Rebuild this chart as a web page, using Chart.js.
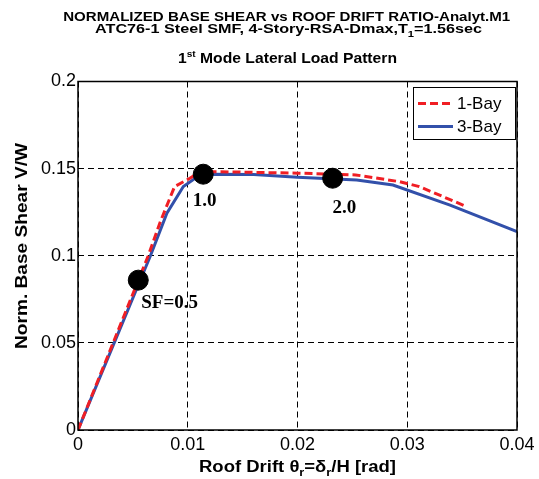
<!DOCTYPE html>
<html>
<head>
<meta charset="utf-8">
<script src="https://cdn.jsdelivr.net/npm/chart.js@4/dist/chart.umd.min.js"></script>
<style>
html,body{margin:0;padding:0;background:#fff;}
canvas{display:block;}
</style>
</head>
<body>
<canvas id="c" width="539" height="479"></canvas>
<script>
// ---- data ----
const drift1Bay = [0, 0.0064, 0.0075, 0.0088, 0.0102, 0.0111, 0.0130, 0.0200, 0.0253, 0.0293, 0.0311, 0.0354];
const shear1Bay = [0, 0.100, 0.1195, 0.1397, 0.1445, 0.1483, 0.1482, 0.1474, 0.1464, 0.1425, 0.1397, 0.1282];
const drift3Bay = [0, 0.0066, 0.0081, 0.0096, 0.0108, 0.0123, 0.0160, 0.0200, 0.0254, 0.0287, 0.0339, 0.0400];
const shear3Bay = [0, 0.100, 0.1244, 0.1397, 0.1450, 0.1468, 0.1466, 0.1451, 0.1435, 0.1406, 0.1291, 0.1138];
const markerDrift = [0.00549, 0.01141, 0.0232];
const markerShear = [0.086, 0.1468, 0.1445];
const markerLabels = ["SF=0.5", "1.0", "2.0"];
const xTicks = [0, 0.01, 0.02, 0.03, 0.04];
const xTickLabels = ["0", "0.01", "0.02", "0.03", "0.04"];
const yTicks = [0, 0.05, 0.1, 0.15, 0.2];
const yTickLabels = ["0", "0.05", "0.1", "0.15", "0.2"];
const seriesNames = ["1-Bay", "3-Bay"];

const RED = 'rgb(240,30,36)';
const BLUE = 'rgb(50,80,170)';

function pts(xs, ys){ return xs.map((x,i)=>({x:x, y:ys[i]})); }

// draw segments of rich text centered at cx, baseline y, stretched to width w
function richText(ctx, segs, cx, y, w){
  let total = 0;
  segs.forEach(s=>{ ctx.font = s.font; s.w = ctx.measureText(s.t).width; total += s.w; });
  const k = w ? w/total : 1;
  ctx.save();
  ctx.translate(cx, y);
  ctx.scale(k, 1);
  let x = -total/2;
  ctx.textAlign = 'left'; ctx.textBaseline = 'alphabetic';
  segs.forEach(s=>{ ctx.font = s.font; ctx.fillText(s.t, x, (s.dy||0)); x += s.w; });
  ctx.restore();
}

const overlay = {
  id: 'overlay',
  afterDraw(chart){
    const ctx = chart.ctx;
    const a = chart.chartArea;
    const xs = chart.scales.x, ys = chart.scales.y;
    ctx.save();
    ctx.fillStyle = '#000';
    // titles
    const b13 = 'bold 13px "Liberation Sans", Arial, sans-serif';
    const b9 = 'bold 9px "Liberation Sans", Arial, sans-serif';
    const b14 = 'bold 14px "Liberation Sans", Arial, sans-serif';
    richText(ctx, [{t:'NORMALIZED BASE SHEAR vs ROOF DRIFT RATIO-Analyt.M1', font:b13}], 286.7, 21, 447);
    richText(ctx, [{t:'ATC76-1 Steel SMF, 4-Story-RSA-Dmax,T', font:b13},{t:'1', font:b9, dy:4},{t:'=1.56sec', font:b13}], 288.5, 33, 387);
    richText(ctx, [{t:'1', font:b14},{t:'st', font:b9, dy:-6},{t:' Mode Lateral Load Pattern', font:b14}], 287.5, 63, 219);
    // axis titles
    const b16 = 'bold 16px "Liberation Sans", Arial, sans-serif';
    const b11 = 'bold 11px "Liberation Sans", Arial, sans-serif';
    richText(ctx, [{t:'Roof Drift \u03b8', font:b16},{t:'r', font:b11, dy:4},{t:'=\u03b4', font:b16},{t:'r', font:b11, dy:4},{t:'/H [rad]', font:b16}], 297.5, 472, 197);
    ctx.save();
    ctx.translate(27, 246);
    ctx.rotate(-Math.PI/2);
    richText(ctx, [{t:'Norm. Base Shear V/W', font:b16}], 0, 0, 206);
    ctx.restore();
    // box
    ctx.strokeStyle = '#000'; ctx.lineWidth = 1.5; ctx.setLineDash([]);
    ctx.strokeRect(a.left, a.top, a.right - a.left, a.bottom - a.top);
    // marker labels
    const lf = 'bold 19px "Liberation Serif", "Times New Roman", serif';
    const offs = [[3, 23], [-10.5, 27], [0, 30]];
    ctx.font = lf; ctx.textAlign = 'left'; ctx.textBaseline = 'middle';
    markerLabels.forEach((t,i)=>{
      const px = xs.getPixelForValue(markerDrift[i]);
      const py = ys.getPixelForValue(markerShear[i]);
      ctx.fillText(t, px + offs[i][0], py + offs[i][1]);
    });
    // legend
    const lx = 413, ly = 87, lw = 102, lh = 52;
    ctx.fillStyle = '#fff'; ctx.fillRect(lx, ly, lw, lh);
    ctx.strokeStyle = '#000'; ctx.lineWidth = 1; ctx.strokeRect(lx+0.5, ly+0.5, lw, lh);
    const rows = [ly + 16.5, ly + 39.5];
    ctx.lineWidth = 3;
    ctx.strokeStyle = RED; ctx.setLineDash([8,4]);
    ctx.beginPath(); ctx.moveTo(418, rows[0]); ctx.lineTo(453, rows[0]); ctx.stroke();
    ctx.strokeStyle = BLUE; ctx.setLineDash([]);
    ctx.beginPath(); ctx.moveTo(418, rows[1]); ctx.lineTo(453, rows[1]); ctx.stroke();
    ctx.fillStyle = '#000';
    ctx.font = '17px "Liberation Sans", Arial, sans-serif';
    ctx.textBaseline = 'middle'; ctx.textAlign = 'left';
    ctx.fillText(seriesNames[0], 457, rows[0] + 1);
    ctx.fillText(seriesNames[1], 457, rows[1] + 1);
    ctx.restore();
  }
};

const tickFont = {family: '"Liberation Sans", Arial, sans-serif', size: 18};

new Chart(document.getElementById('c'), {
  type: 'scatter',
  data: {
    datasets: [
      {label: 'markers', data: pts(markerDrift, markerShear), showLine: false,
       pointRadius: 10, pointBackgroundColor: '#000', pointBorderColor: '#000', order: 0},
      {label: seriesNames[0], data: pts(drift1Bay, shear1Bay), showLine: true, borderColor: RED,
       borderWidth: 3, borderDash: [8,4], pointRadius: 0, tension: 0, order: 1},
      {label: seriesNames[1], data: pts(drift3Bay, shear3Bay), showLine: true, borderColor: BLUE,
       borderWidth: 3, pointRadius: 0, tension: 0, order: 2}
    ]
  },
  options: {
    responsive: false,
    animation: false,
    devicePixelRatio: 1,
    layout: {padding: {top: 81.5, right: 22, left: 0, bottom: 0}},
    plugins: {legend: {display: false}, title: {display: false}, tooltip: {enabled: false}},
    scales: {
      x: {
        type: 'linear', min: 0, max: 0.04,
        afterBuildTicks: s => { s.ticks = xTicks.map(v=>({value:v})); },
        afterFit: s => { s.height = 479 - 430 ; },
        ticks: {color: '#000', font: tickFont, padding: 4, maxRotation: 0,
                callback: (v) => { const i = xTicks.findIndex(t=>Math.abs(t-v)<1e-9); return i>=0 ? xTickLabels[i] : ''; }},
        grid: {color: '#000', lineWidth: 1, drawTicks: false},
        border: {display: false, dash: [6,4]}
      },
      y: {
        type: 'linear', min: 0, max: 0.2,
        afterBuildTicks: s => { s.ticks = yTicks.map(v=>({value:v})); },
        afterFit: s => { s.width = 78; },
        ticks: {color: '#000', font: tickFont, padding: 2,
                callback: (v) => { const i = yTicks.findIndex(t=>Math.abs(t-v)<1e-9); return i>=0 ? yTickLabels[i] : ''; }},
        grid: {color: '#000', lineWidth: 1, drawTicks: false},
        border: {display: false, dash: [6,4]}
      }
    }
  },
  plugins: [overlay]
});
</script>
</body>
</html>
